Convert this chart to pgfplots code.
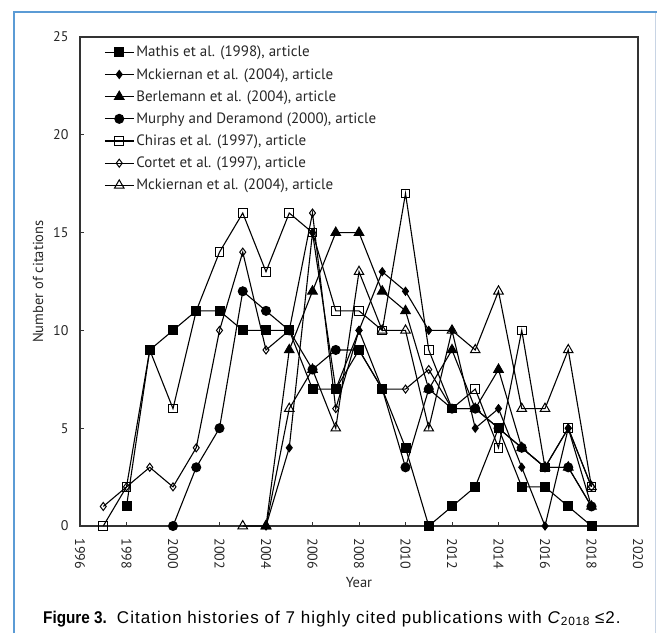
\documentclass[border=0pt]{standalone}
\usepackage{pgfplots}
\pgfplotsset{compat=1.18}
\usepackage{fontspec}
\setmainfont{PT Sans}
\newfontfamily\capfont{Liberation Sans}
\newfontfamily\capfontls[LetterSpace=6]{Liberation Sans}
\definecolor{frameblue}{RGB}{91,155,213}
\definecolor{framelight}{RGB}{200,212,228}
\definecolor{axisgray}{RGB}{51,51,51}
\begin{document}
\begin{tikzpicture}[x=1pt,y=1pt]
\useasboundingbox (0,0) rectangle (657,633);
\draw[frameblue, line width=2pt] (14,0) -- (14,621) -- (657,621);
\draw[framelight, line width=1pt] (655,620) -- (655,0);
\begin{axis}[
  at={(80pt,107pt)}, anchor=south west,
  scale only axis, width=558pt, height=489pt,
  xmin=1996, xmax=2020, ymin=0, ymax=25,
  xtick={1996,1998,...,2020}, ytick={0,5,...,25},
  xtick pos=left, ytick pos=left,
  tick align=inside, major tick length=4.5pt,
  axis line style={axisgray, line width=1.6pt},
  every tick/.style={axisgray, line width=1pt},
  /pgf/number format/.cd, 1000 sep={}, assume math mode=true, /pgfplots/.cd,
  tick label style={font=\fontsize{14}{14}\selectfont, text=black!85},
  xticklabel style={yshift=-9pt, rotate=-90, anchor=west},
  yticklabel style={xshift=-8pt, anchor=east},
  xlabel={Year}, ylabel={Number of citations},
  label style={font=\fontsize{14.5}{14.5}\selectfont, text=black!85},
  xlabel style={at={([yshift=-57pt]axis description cs:0.5,0)}, anchor=center},
  ylabel style={at={([xshift=-42pt]axis description cs:0,0.5)}, anchor=center},
  clip=false,
  legend style={at={([xshift=24pt,yshift=-7pt]axis description cs:0,1)}, anchor=north west,
    draw=none, fill=none, font=\fontsize{15}{15}\selectfont, row sep=6pt,
    inner sep=0pt, text=black!85},
  legend cell align=left,
  legend image code/.code={\draw[mark repeat=2,mark phase=2,#1] plot coordinates {(0pt,0pt) (14.5pt,0pt) (29pt,0pt)};},
  every axis plot/.append style={black, line width=1.1pt, mark options={solid, line width=1pt}},
]
\addplot[mark=square*, mark size=4.5pt] coordinates {
(1998,1)(1999,9)(2000,10)(2001,11)(2002,11)(2003,10)(2004,10)(2005,10)(2006,7)(2007,7)(2008,9)(2009,7)(2010,4)(2011,0)(2012,1)(2013,2)(2014,5)(2015,2)(2016,2)(2017,1)(2018,0)};
\addlegendentry{Mathis et al. (1998), article}
\addplot[mark=diamond*, mark size=4pt] coordinates {
(2004,0)(2005,4)(2006,15)(2007,7)(2008,10)(2009,13)(2010,12)(2011,10)(2012,10)(2013,5)(2014,6)(2015,3)(2016,0)(2017,5)(2018,1)};
\addlegendentry{Mckiernan et al. (2004), article}
\addplot[mark=triangle*, mark size=5.5pt] coordinates {
(2004,0)(2005,9)(2006,12)(2007,15)(2008,15)(2009,12)(2010,11)(2011,7)(2012,9)(2013,6)(2014,8)(2015,4)(2016,3)(2017,3)(2018,1)};
\addlegendentry{Berlemann et al. (2004), article}
\addplot[mark=*, mark size=4.5pt] coordinates {
(2000,0)(2001,3)(2002,5)(2003,12)(2004,11)(2005,10)(2006,8)(2007,9)(2008,9)(2009,7)(2010,3)(2011,7)(2012,6)(2013,6)(2014,5)(2015,4)(2016,3)(2017,3)(2018,1)};
\addlegendentry{Murphy and Deramond (2000), article}
\addplot[mark=square, mark size=4.3pt] coordinates {
(1997,0)(1998,2)(1999,9)(2000,6)(2001,11)(2002,14)(2003,16)(2004,13)(2005,16)(2006,15)(2007,11)(2008,11)(2009,10)(2010,17)(2011,9)(2012,6)(2013,7)(2014,4)(2015,10)(2016,3)(2017,5)(2018,2)};
\addlegendentry{Chiras et al. (1997), article}
\addplot[mark=diamond, mark size=4pt] coordinates {
(1997,1)(1998,2)(1999,3)(2000,2)(2001,4)(2002,10)(2003,14)(2004,9)(2005,10)(2006,16)(2007,6)(2008,10)(2009,7)(2010,7)(2011,8)(2012,6)(2013,6)(2014,5)(2015,4)(2016,3)(2017,5)(2018,2)};
\addlegendentry{Cortet et al. (1997), article}
\addplot[mark=triangle, mark size=5.5pt] coordinates {
(2003,0)(2004,0)(2005,6)(2006,8)(2007,5)(2008,13)(2009,10)(2010,10)(2011,5)(2012,10)(2013,9)(2014,12)(2015,6)(2016,6)(2017,9)(2018,2)};
\addlegendentry{Mckiernan et al. (2004), article}
\end{axis}
\node[anchor=base west, inner sep=0pt] at (43,10) {\fontsize{17}{17}\selectfont\capfont\scalebox{0.9}[1]{\textbf{Figure 3.}}\hspace{10pt}\capfontls Citation histories of 7 highly cited publications with \textit{C}\textsubscript{2018}\hspace{5pt}≤2.};
\end{tikzpicture}
\end{document}
